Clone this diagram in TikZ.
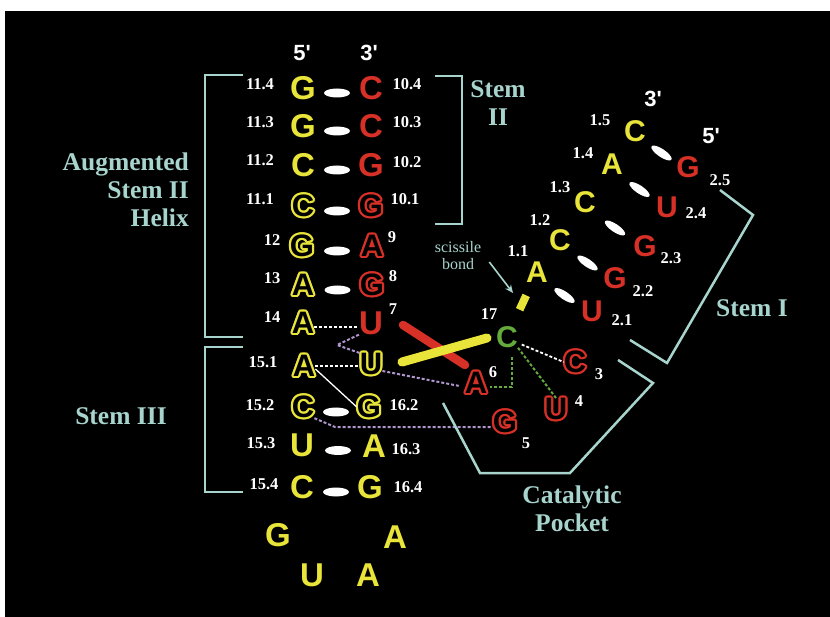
\documentclass[tikz,border=0pt]{standalone}
\usepackage{fontspec}
\setmainfont{Liberation Serif}
\setsansfont{Liberation Sans}
\usetikzlibrary{calc,arrows.meta,shapes.geometric}
\definecolor{ylw}{RGB}{232,228,58}
\definecolor{rd}{RGB}{215,48,38}
\definecolor{grn}{RGB}{100,170,60}
\definecolor{tl}{RGB}{168,212,206}
\definecolor{lav}{RGB}{175,150,205}
\tikzset{
  lt/.style={inner sep=0pt, font=\fontsize{33}{33}\selectfont\sffamily\bfseries},
  lth/.style={inner sep=0pt, font=\fontsize{31}{31}\selectfont\sffamily\bfseries},
  lts/.style={inner sep=0pt, font=\fontsize{30}{30}\selectfont\sffamily\bfseries},
  prime/.style={inner sep=0pt, text=white, font=\fontsize{22}{22}\selectfont\sffamily\bfseries},
  num/.style={inner sep=0pt, text=white, font=\fontsize{16.5}{16.5}\selectfont\bfseries},
  lab/.style={inner sep=0pt, text=tl, font=\fontsize{25.5}{28}\selectfont\bfseries, align=center},
  brk/.style={draw=tl, line width=2.5pt},
  bp/.style={ellipse, fill=white, inner sep=0pt, minimum width=26pt, minimum height=9pt},
  bps/.style={bp, minimum width=24pt, minimum height=8pt, rotate=-34},
  wdash/.style={draw=white, line width=1.8pt, dash pattern=on 3pt off 2pt},
  lavdash/.style={draw=lav, line width=2pt, dash pattern=on 3pt off 2pt},
  grndash/.style={draw=grn, line width=2pt, dash pattern=on 3pt off 2pt},
}
% hollow letter: style, name, position, colour, letter
\newcommand\hollow[5]{%
  \foreach \ang in {0,30,...,330}{\node[#1,text=#4] (#2r\ang) at ([shift={(\ang:2.3pt)}]#3) {#5};}
  \node[#1,text=black] (#2) at (#3) {#5};}
\begin{document}
\begin{tikzpicture}[x=1pt,y=-1pt]
\useasboundingbox (0,0) rectangle (830,617);
\fill[white] (0,0) rectangle (830,617);
\fill[black] (5,11) rectangle (830,617);

% strand ends
\node[prime] (p5) at (302,53) {5\textquotesingle};
\node[prime] (p3) at (369,53) {3\textquotesingle};
\node[prime] (q3) at (653,99) {3\textquotesingle};
\node[prime] (q5) at (711,136) {5\textquotesingle};

% left strand
\node[lt,text=ylw] (G114) at (303,88) {G};
\node[lt,text=ylw] (G113) at (303,126) {G};
\node[lt,text=ylw] (C112) at (303,165) {C};
\hollow{lth}{C111}{303,206}{ylw}{C}
\hollow{lth}{G12}{302,246}{ylw}{G}
\hollow{lth}{A13}{303,285}{ylw}{A}
\hollow{lth}{A14}{303,323}{ylw}{A}
\hollow{lth}{A151}{304,366}{ylw}{A}
\hollow{lth}{C152}{303,407}{ylw}{C}
\node[lt,text=ylw] (U153) at (302,445) {U};
\node[lt,text=ylw] (C154) at (302,487) {C};

% right strand
\node[lt,text=rd] (C104) at (371,88) {C};
\node[lt,text=rd] (C103) at (371,126) {C};
\node[lt,text=rd] (G102) at (371,165) {G};
\hollow{lth}{G101}{371,206}{rd}{G}
\hollow{lth}{A9}{372,246}{rd}{A}
\hollow{lth}{G8}{372,285}{rd}{G}
\node[lt,text=rd] (U7) at (371,323) {U};
\hollow{lth}{U161}{371,364}{ylw}{U}
\hollow{lth}{G162}{369,407}{ylw}{G}
\node[lt,text=ylw] (A163) at (374,446) {A};
\node[lt,text=ylw] (G164) at (370,487) {G};

% loop
\node[lt,text=ylw] (LG) at (278,535) {G};
\node[lt,text=ylw] (LA1) at (395,537) {A};
\node[lt,text=ylw] (LU) at (312,575) {U};
\node[lt,text=ylw] (LA2) at (368,575) {A};

% stem I
\node[lts,text=ylw] (C15) at (635,131) {C};
\node[lts,text=ylw] (A14s) at (612,164) {A};
\node[lts,text=ylw] (C13) at (585,202) {C};
\node[lts,text=ylw] (C12) at (560,240) {C};
\node[lts,text=ylw] (A11) at (537,272) {A};
\node[lts,text=rd] (G25) at (688,167) {G};
\node[lts,text=rd] (U24) at (667,207) {U};
\node[lts,text=rd] (G23) at (645,246) {G};
\node[lts,text=rd] (G22) at (615,278) {G};
\node[lts,text=rd] (U21) at (592,311) {U};

% catalytic core
\node[lts,text=grn] (C17) at (507,337) {C};
\hollow{lth}{A6}{476,383}{rd}{A}
\hollow{lth}{G5}{505,422}{rd}{G}
\hollow{lth}{U4}{556,409}{rd}{U}
\hollow{lth}{C3}{575,362}{rd}{C}

% base-pair dashes
\foreach \a/\b/\n in {G114/C104/d1,G113/C103/d2,C112/G102/d3,C111/G101/d4,G12/A9/d5,A13/G8/d6,C152/G162/d7,U153/A163/d8,C154/G164/d9}
  \node[bp] (\n) at ($(\a)!.5!(\b)+(0,5)$) {};
\foreach \a/\b/\n in {C15/G25/s1,A14s/U24/s2,C13/G23/s3,C12/G22/s4,A11/U21/s5}
  \node[bps] (\n) at ($(\a)!.5!(\b)+(0,4)$) {};

% numbers
\node[num] (n114) at (260,84) {11.4};
\node[num] (n113) at (260,122) {11.3};
\node[num] (n112) at (260,160) {11.2};
\node[num] (n111) at (260,199) {11.1};
\node[num] (n104) at (407,84) {10.4};
\node[num] (n103) at (407,122) {10.3};
\node[num] (n102) at (407,162) {10.2};
\node[num] (n101) at (405,199) {10.1};
\node[num] (n12) at (272,240) {12};
\node[num] (n13) at (272,278) {13};
\node[num] (n14) at (272,317) {14};
\node[num] (n9) at (392,237) {9};
\node[num] (n8) at (393,276) {8};
\node[num] (n7) at (393,309) {7};
\node[num] (n151) at (263,362) {15.1};
\node[num] (n152) at (260,405) {15.2};
\node[num] (n153) at (261,443) {15.3};
\node[num] (n154) at (264,484) {15.4};
\node[num] (n162) at (404,405) {16.2};
\node[num] (n163) at (406,449) {16.3};
\node[num] (n164) at (408,487) {16.4};
\node[num] (n15) at (600,120) {1.5};
\node[num] (n14s) at (583,153) {1.4};
\node[num] (n13s) at (560,187) {1.3};
\node[num] (n12s) at (540,220) {1.2};
\node[num] (n11s) at (518,251) {1.1};
\node[num] (n25) at (720,180) {2.5};
\node[num] (n24) at (696,213) {2.4};
\node[num] (n23) at (671,258) {2.3};
\node[num] (n22) at (643,291) {2.2};
\node[num] (n21) at (622,320) {2.1};
\node[num] (n17) at (489,314) {17};
\node[num] (n6) at (493,372) {6};
\node[num] (n5) at (526,443) {5};
\node[num] (n4) at (579,401) {4};
\node[num] (n3) at (599,374) {3};

% tertiary interactions
\draw[wdash] ([yshift=-4pt]A14.east) -- ([yshift=-4pt]A14.east -| U7.west);
\draw[wdash] (A151.east) -- (A151.east -| U161.west);
\draw[white, line width=1.3pt] ([yshift=-3pt]A151.east) -- (G162.west);
\coordinate (lv1) at (337,345);
\draw[lavdash] (U7.south west) -- (lv1) -- (U161.north west);
\draw[lavdash, shorten >=6pt] ([yshift=-7pt]U161.east) -- ([yshift=-4pt]A6.west);
\coordinate (lv2) at (335,427);
\draw[lavdash] (C152.south east) -- (lv2) -- (lv2 -| G5.west);
\draw[grndash] ([xshift=5pt,yshift=-9pt]C17.south) |- ([xshift=3pt,yshift=-4pt]A6.east);
\draw[grndash] (C17.south east) -- (U4.north);
\draw[wdash, shorten <=4pt] ([yshift=-6pt]C17.east) -- (C3.west);

% bars
\coordinate (r1) at (403,325);
\coordinate (r2) at (465,365);
\draw[rd, line width=8.5pt, line cap=round] (r1) -- (r2);
\coordinate (y1) at (402,362);
\coordinate (y2) at (487,338);
\draw[ylw, line width=9pt, line cap=round] (y1) -- (y2);
\draw[ylw, line width=8pt] ($(A11)!0.36!(C17)$) -- ($(A11)!0.58!(C17)$);

% brackets
\draw[brk] (243,75) -- (205,75) -- (205,337) -- (243,337);
\draw[brk] (243,347) -- (205,347) -- (205,492) -- (243,492);
\draw[brk] (435,76) -- (462,76) -- (462,224) -- (435,224);
\draw[brk] (720,190) -- (753,215) -- (667,363) -- (630,340);
\draw[brk] (443,403) -- (480,473) -- (570,473) -- (653,383) -- (618,360);

% labels
\node[lab, align=right, anchor=east] (aug) at (189,190) {Augmented\\Stem II\\Helix};
\node[lab] (s3) at (121,416) {Stem III};
\node[lab] (s2) at (498,103) {Stem\\II};
\node[lab] (s1) at (752,308) {Stem I};
\node[lab] (cp) at (572,509) {Catalytic\\Pocket};
\node[inner sep=0pt, text=tl, font=\fontsize{16}{17}\selectfont, align=center] (sciss) at (458,256) {scissile\\bond};
\coordinate (sct) at (513,293);
\draw[tl, line width=1.6pt, -{Stealth[length=8pt,width=7pt]}] ([xshift=8pt,yshift=-6pt]sciss.east) -- (sct);
\end{tikzpicture}
\end{document}
